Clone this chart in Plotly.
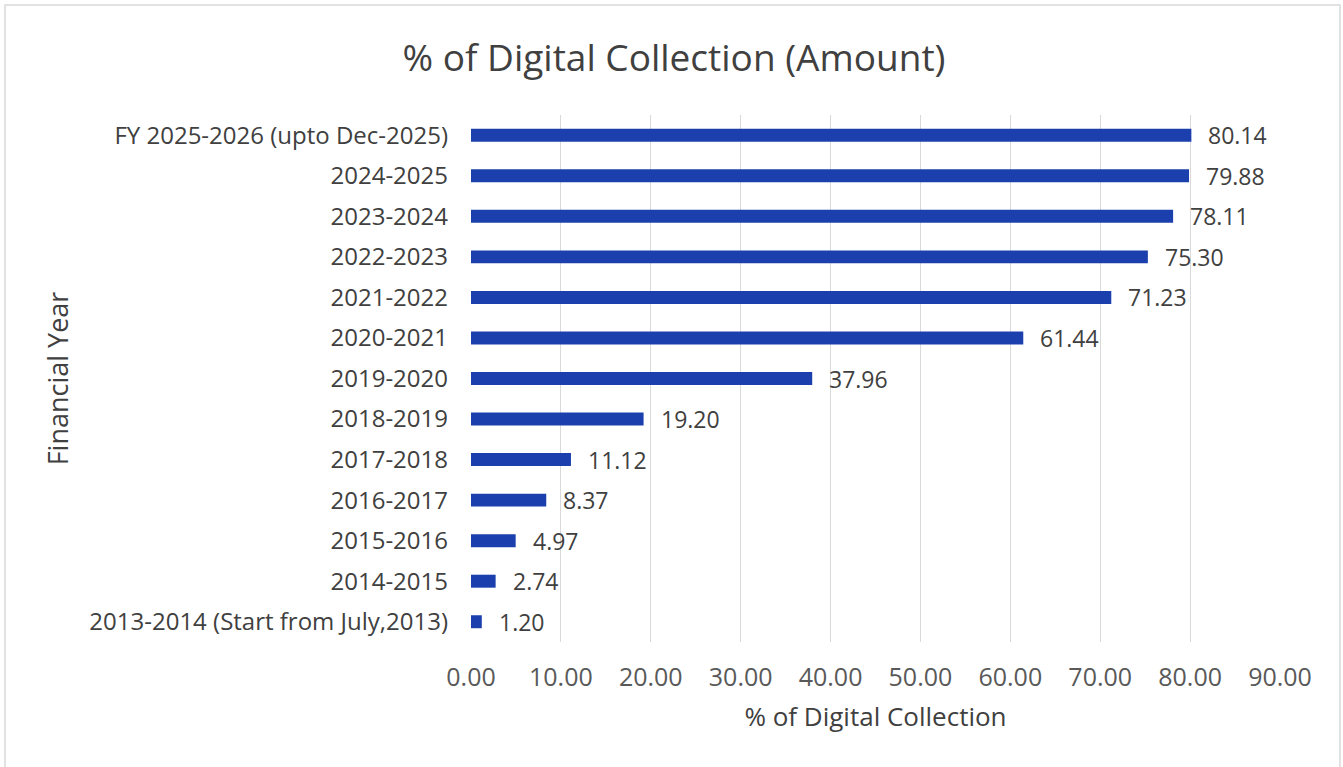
import plotly.graph_objects as go

years = [
    "2013-2014 (Start from July,2013)",
    "2014-2015",
    "2015-2016",
    "2016-2017",
    "2017-2018",
    "2018-2019",
    "2019-2020",
    "2020-2021",
    "2021-2022",
    "2022-2023",
    "2023-2024",
    "2024-2025",
    "FY 2025-2026 (upto Dec-2025)",
]
digital_pct = [1.20, 2.74, 4.97, 8.37, 11.12, 19.20, 37.96, 61.44, 71.23, 75.30, 78.11, 79.88, 80.14]
x_ticks = [0, 10, 20, 30, 40, 50, 60, 70, 80, 90]

W, H = 1343, 767
ML, MR, MT, MB = 471, 63, 115, 125
FONT = "'Open Sans', sans-serif"
BAR = "#1b40ad"
TXT = "#404040"

fig = go.Figure(
    go.Bar(
        x=digital_pct,
        y=years,
        orientation="h",
        marker=dict(color=BAR, line=dict(width=0)),
        hoverinfo="x+y",
    )
)

# value labels just past the end of each bar
for v, c in zip(digital_pct, years):
    fig.add_annotation(
        x=v, y=c, xref="x", yref="y",
        text=f"{v:.2f}", showarrow=False,
        xanchor="left", xshift=15,
        font=dict(family=FONT, size=23, color=TXT),
    )

# chart-area frame (bottom edge runs past the page)
pw = W - ML - MR
ph = H - MT - MB
fig.add_shape(
    type="rect", xref="paper", yref="paper",
    x0=(5 - ML) / pw, x1=(1340 - ML) / pw,
    y0=-(MB + 20) / ph, y1=1 + (MT - 5) / ph,
    line=dict(color="#d9d9d9", width=1.5), fillcolor="rgba(0,0,0,0)",
    layer="below",
)

fig.update_layout(
    width=W, height=H,
    margin=dict(l=ML, r=MR, t=MT, b=MB),
    paper_bgcolor="white", plot_bgcolor="white",
    bargap=0.68,
    showlegend=False,
    font=dict(family=FONT, color=TXT),
    title=dict(
        text="% of Digital Collection (Amount)",
        x=674 / W, xanchor="center",
        y=1 - 58 / H, yanchor="middle",
        font=dict(family=FONT, size=37, color=TXT),
    ),
    xaxis=dict(
        range=[0, 90],
        tickvals=x_ticks,
        ticktext=[f"{t:.2f}" for t in x_ticks],
        showgrid=True, gridcolor="#d9d9d9", gridwidth=1,
        zeroline=False, showline=False,
        ticks="", ticklabelstandoff=18,
        tickfont=dict(family=FONT, size=25, color="#595959"),
        title=dict(
            text="% of Digital Collection",
            font=dict(family=FONT, size=26, color=TXT),
            standoff=15,
        ),
        fixedrange=True,
    ),
    yaxis=dict(
        categoryorder="array", categoryarray=years,
        showgrid=False, zeroline=False, showline=False,
        ticks="", ticklabelstandoff=22,
        tickfont=dict(family=FONT, size=24, color=TXT),
        title=dict(
            text="Financial Year",
            font=dict(family=FONT, size=27, color=TXT),
            standoff=12,
        ),
        fixedrange=True,
    ),
)

fig.write_html("out.html")
